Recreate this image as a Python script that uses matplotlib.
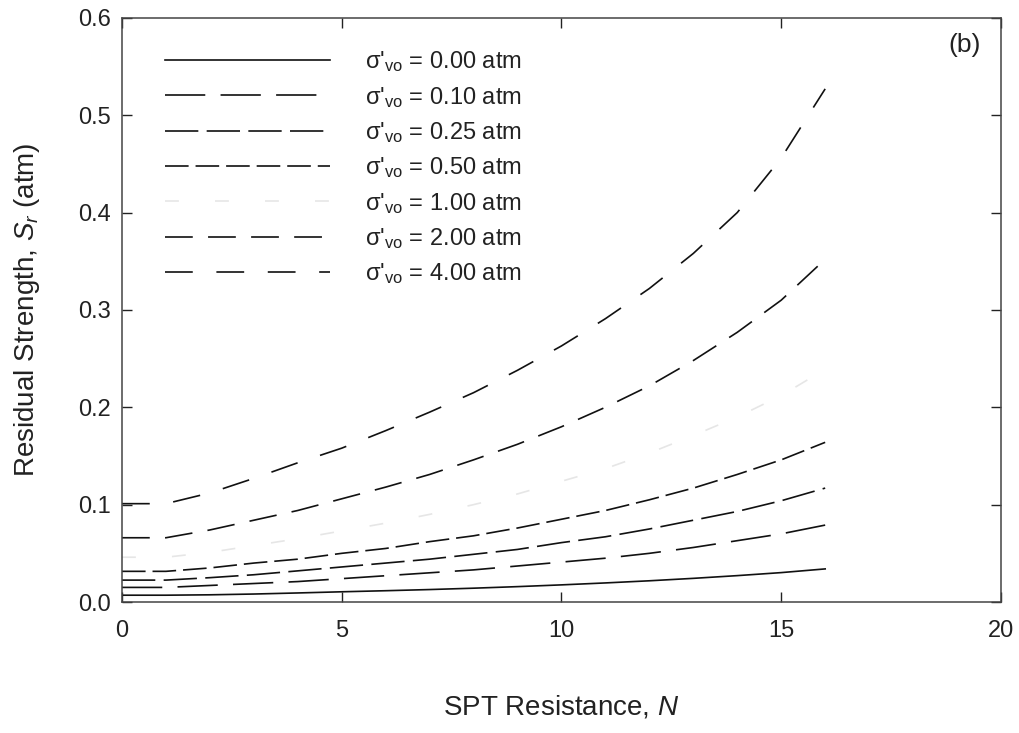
import matplotlib
matplotlib.use('Agg')
import matplotlib.pyplot as plt

matplotlib.rcParams['font.family'] = ['Liberation Sans', 'DejaVu Sans']
matplotlib.rcParams['mathtext.fontset'] = 'custom'
matplotlib.rcParams['mathtext.rm'] = 'Liberation Sans'
matplotlib.rcParams['mathtext.it'] = 'Liberation Sans:italic'
matplotlib.rcParams['lines.scale_dashes'] = False

# SPT blow count
N = [0, 1, 2, 3, 4, 5, 6, 7, 8, 9, 10, 11, 12, 13, 14, 15, 16]

# residual strength (atm), one list per effective stress
sr_000 = [0.0070, 0.0070, 0.0074, 0.0082, 0.0093, 0.0105, 0.0116, 0.0128, 0.0142,
          0.0158, 0.0176, 0.0196, 0.0218, 0.0243, 0.0271, 0.0302, 0.0340]
sr_010 = [0.015, 0.015, 0.017, 0.019, 0.021, 0.024, 0.027, 0.030, 0.033,
          0.037, 0.041, 0.045, 0.050, 0.056, 0.063, 0.070, 0.079]
sr_025 = [0.0225, 0.0225, 0.025, 0.028, 0.032, 0.036, 0.040, 0.044, 0.049,
          0.054, 0.061, 0.067, 0.075, 0.084, 0.093, 0.104, 0.117]
sr_050 = [0.0315, 0.0315, 0.035, 0.040, 0.044, 0.050, 0.055, 0.062, 0.068,
          0.076, 0.085, 0.094, 0.105, 0.117, 0.131, 0.146, 0.164]
sr_100 = [0.046, 0.046, 0.051, 0.058, 0.065, 0.073, 0.081, 0.090, 0.100,
          0.111, 0.124, 0.137, 0.153, 0.171, 0.190, 0.212, 0.239]
sr_200 = [0.066, 0.066, 0.074, 0.084, 0.094, 0.106, 0.118, 0.131, 0.146,
          0.162, 0.180, 0.200, 0.222, 0.248, 0.277, 0.310, 0.352]
sr_400 = [0.101, 0.101, 0.112, 0.127, 0.143, 0.158, 0.176, 0.195, 0.215,
          0.238, 0.263, 0.291, 0.322, 0.358, 0.400, 0.456, 0.527]

labels = ['0.00', '0.10', '0.25', '0.50', '1.00', '2.00', '4.00']
series = [sr_000, sr_010, sr_025, sr_050, sr_100, sr_200, sr_400]
styles = ['-', (0, (29, 11)), (0, (24, 6)), (0, (17, 5)), (0, (10, 26)),
          (0, (20, 11)), (0, (20, 17))]
colors = ['#111111', '#111111', '#111111', '#111111', '#e6e6e6', '#111111', '#111111']

fig = plt.figure(figsize=(10.19, 7.33), dpi=100)
ax = fig.add_axes([0.1197, 0.1787, 0.8626, 0.797])

for y, lab, ls, c in zip(series, labels, styles, colors):
    ax.plot(N, y, linestyle=ls, color=c, lw=1.2,
            label=r"σ$'_{\rm vo}$ = " + lab + " atm")

ax.set_xlim(0, 20)
ax.set_ylim(0, 0.6)
ax.set_xticks([0, 5, 10, 15, 20])
ax.set_yticks([0.0, 0.1, 0.2, 0.3, 0.4, 0.5, 0.6])
ax.set_yticklabels(['0.0', '0.1', '0.2', '0.3', '0.4', '0.5', '0.6'])
ax.tick_params(direction='in', length=7, width=1, labelsize=17, colors='#222222',
               top=True, right=True)
ax.tick_params(axis='y', pad=8)
ax.tick_params(axis='x', pad=13)
for s in ax.spines.values():
    s.set_color('#444444')
    s.set_linewidth(1.1)

ax.set_xlabel('SPT Resistance, $N$', fontsize=20, color='#222222', labelpad=37)
ax.set_ylabel('Residual Strength, $S_r$ (atm)', fontsize=20, color='#222222', labelpad=26)

ax.text(0.959, 0.954, '(b)', transform=ax.transAxes, fontsize=19,
        ha='center', va='center', color='#222222')

ax.legend(loc='upper left', bbox_to_anchor=(0.038, 0.962), frameon=False,
          fontsize=17, handlelength=7.0, handletextpad=1.48, labelspacing=0.44,
          labelcolor='#222222', borderaxespad=0)

plt.savefig('out.png', dpi=100)
